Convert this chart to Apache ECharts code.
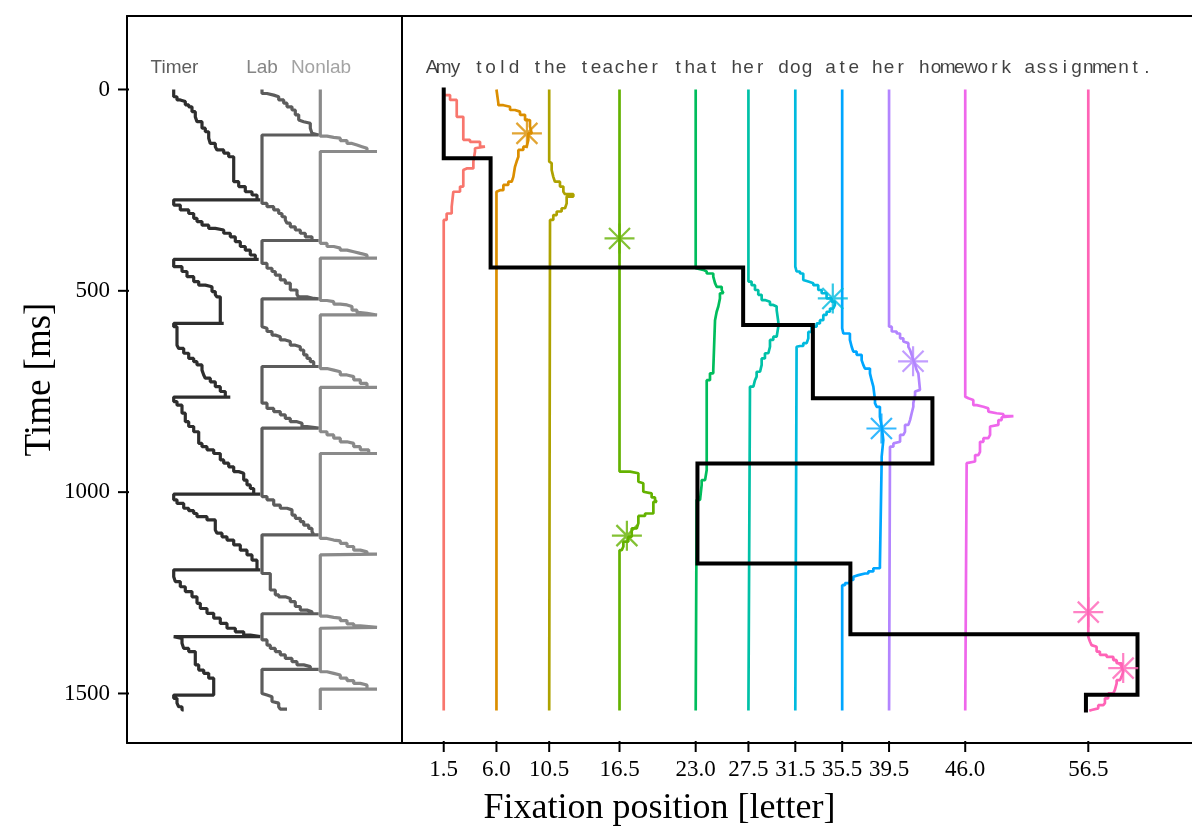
<!DOCTYPE html>
<html><head><meta charset="utf-8">
<script src="https://cdn.jsdelivr.net/npm/echarts@6/dist/echarts.min.js"></script>
<style>html,body{margin:0;padding:0;background:#fff}#c{width:1192px;height:834px}</style>
</head><body><div id="c"></div>
<script>
// ---------- data ----------
const sentence = 'Amy told the teacher that her dog ate her homework assignment.';
const words = ['Amy','told','the','teacher','that','her','dog','ate','her','homework','assignment.'];
const wordPos = [1.5, 6.0, 10.5, 16.5, 23.0, 27.5, 31.5, 35.5, 39.5, 46.0, 56.5];
const yTicks = [0, 500, 1000, 1500];
const trialEnd = 1542;

// activation traces per word: [letter position, time ms]
const traceAmy = [[1.5,0],[1.5,5],[2.04,14],[2.61,26],[2.61,68],[3.17,68],[3.17,117],[3.74,125],[4.6,130],[5.02,142],[4.17,146],[4.03,154],[4.03,179],[3.46,196],[3.17,200],[3.17,225],[2.89,241],[2.32,254],[2.18,258],[2.18,291],[1.75,308],[1.5,324],[1.5,1542]];
const traceTold = [[6,0],[6.16,2],[6.16,34],[6.59,39],[7.16,43],[7.58,51],[8.01,55],[8.44,63],[8.86,76],[9.01,92],[8.72,109],[8.58,125],[8.29,142],[7.87,150],[7.72,167],[7.58,179],[7.44,192],[7.3,217],[7.01,229],[6.59,237],[6.3,250],[6.0,254],[6.0,1542]];
const traceThe = [[10.5,0],[10.5,179],[10.71,183],[10.85,200],[10.99,217],[11.42,229],[11.71,241],[11.85,254],[12.56,260],[11.99,266],[11.85,283],[11.56,295],[11.14,303],[10.85,312],[10.57,324],[10.5,328],[10.5,1542]];
const traceTeacher = [[16.5,0],[16.5,937],[17.4,949],[18.11,953],[18.25,974],[18.53,978],[18.68,999],[19.24,1003],[19.53,1013],[19.67,1019],[19.39,1024],[19.39,1048],[18.68,1053],[18.11,1059],[17.97,1077],[17.54,1090],[17.25,1111],[16.83,1123],[16.69,1135],[16.5,1144],[16.5,1542]];
const traceThat = [[23,0],[23,444],[23.65,448],[23.94,452],[24.5,457],[24.65,465],[24.79,481],[25.22,490],[25.36,498],[25.07,506],[24.93,519],[24.79,539],[24.65,552],[24.5,573],[24.5,697],[24.22,705],[23.94,722],[23.94,937],[23.8,945],[23.51,970],[23.37,982],[23.08,1019],[23,1024],[23,1542]];
const traceHer1 = [[27.5,0],[27.5,469],[27.77,477],[28.06,486],[28.34,498],[28.63,510],[28.91,523],[29.34,527],[29.62,535],[29.91,539],[30.05,548],[30.05,577],[29.91,589],[29.62,614],[29.34,622],[29.2,639],[28.91,655],[28.63,668],[28.49,684],[28.2,701],[28.06,713],[27.92,722],[27.63,738],[27.5,755],[27.5,1542]];
const traceDog = [[31.5,0],[31.5,440],[31.61,444],[31.9,452],[32.18,457],[32.33,473],[32.61,477],[33.04,481],[33.46,486],[33.75,498],[34.17,506],[34.6,519],[34.88,527],[34.74,535],[34.46,544],[34.17,552],[33.89,560],[33.6,573],[33.32,581],[32.89,589],[32.61,602],[32.47,618],[32.18,630],[31.9,637],[31.61,639],[31.5,643],[31.5,1542]];
const traceAte = [[35.5,0],[35.5,593],[35.6,597],[36.16,606],[36.31,622],[36.45,639],[36.73,651],[37.16,659],[37.3,672],[37.44,684],[37.87,693],[38.01,705],[38.16,722],[38.3,738],[38.3,771],[38.44,779],[38.72,788],[38.87,813],[39.01,837],[38.87,871],[38.87,912],[38.72,920],[38.72,1181],[38.16,1189],[37.73,1197],[37.45,1202],[36.88,1206],[36.45,1210],[36.17,1218],[35.74,1226],[35.5,1231],[35.5,1542]];
const traceHer2 = [[39.5,0],[39.5,581],[39.73,589],[40.15,601],[40.44,606],[40.72,618],[40.86,626],[41.15,630],[41.29,639],[41.43,647],[41.57,659],[41.72,672],[41.86,684],[42.0,697],[42.14,705],[42.14,746],[41.72,750],[41.57,759],[41.57,779],[41.43,788],[41.29,804],[41.15,821],[40.86,833],[40.72,850],[40.44,858],[40.29,875],[39.87,879],[39.58,887],[39.5,891],[39.5,1542]];
const traceHomework = [[46,0],[46,763],[46.27,767],[46.69,771],[46.98,784],[47.55,788],[47.97,792],[48.12,800],[48.68,804],[49.25,806],[50.11,811],[49.11,814],[48.83,821],[48.83,833],[48.12,837],[47.97,858],[47.55,866],[47.26,875],[47.12,900],[46.84,908],[46.69,924],[46.12,928],[46,933],[46,1542]];
const traceAssignment = [[56.5,0],[56.5,1359],[56.64,1363],[56.78,1371],[56.93,1380],[57.21,1384],[57.49,1396],[58.06,1404],[58.63,1409],[58.92,1417],[59.34,1425],[59.48,1433],[59.34,1446],[59.2,1458],[58.92,1467],[58.77,1475],[58.63,1491],[58.2,1500],[57.92,1512],[57.78,1524],[57.35,1529],[57.21,1537],[56.78,1541],[56.58,1543]];
const wordTraces = [traceAmy, traceTold, traceThe, traceTeacher, traceThat, traceHer1, traceDog, traceAte, traceHer2, traceHomework, traceAssignment];

// fixations
const fixPos = [1.5, 5.5, 27.05, 33.0, 43.2, 23.15, 36.2, 60.7, 56.3];
const fixOnset = [0, 171, 442, 585, 767, 929, 1177, 1353, 1503];

// stars
const starWord = [1, 3, 6, 8, 7, 3, 10, 10];
const starPos = [8.6, 16.5, 34.7, 41.55, 38.85, 17.13, 56.5, 59.48];
const starTime = [109, 370, 519, 675, 842, 1108, 1298, 1437];

// left panel traces: [state, time ms]
const panelLabels = ['Timer', 'Lab', 'Nonlab'];
const panelLabelPos = [47.5, 135, 194];
const timerTrace = [[46.7,0],[50,18],[53.3,26],[58.3,30],[61.7,38],[65,43],[68.3,55],[70,68],[75,80],[78.3,96],[81.7,105],[83.3,121],[88.3,134],[90,142],[96.7,150],[101.7,158],[106.7,167],[106.7,217],[111.7,229],[118.3,241],[125,254],[130,262],[133.3,274],[46.7,274],
[53.3,287],[61.7,299],[66.7,308],[70,320],[75,328],[81.7,337],[88.3,345],[96.7,349],[103.3,357],[108.3,366],[113.3,378],[118.3,390],[123.3,399],[128.3,411],[131.7,422],[46.7,422],
[55,440],[60,452],[66.7,465],[71.7,477],[78.3,486],[85,490],[88.3,502],[90,510],[93.3,515],[93.3,572],[96.7,581],[46.7,581],
[50,589],[50,622],[51.7,635],[56.7,643],[61.7,655],[66.7,668],[70,676],[75,684],[76.7,697],[78.3,709],[83.3,717],[88.3,726],[93.3,738],[98.3,750],[103.3,764],[46.7,764],
[50,775],[55,784],[58.3,804],[61.7,825],[66.7,837],[71.7,850],[75,879],[80,887],[86.7,895],[93.3,904],[96.7,920],[101.7,928],[106.7,937],[111.7,949],[116.7,953],[120,970],[123.3,982],[126.7,991],[133.3,1005],[46.7,1005],
[50,1019],[56.7,1028],[61.7,1040],[66.7,1046],[70,1053],[80,1061],[88.3,1069],[90,1094],[95,1102],[100,1111],[106.7,1119],[113.3,1131],[120,1144],[125,1156],[130,1169],[133.3,1193],[46.7,1193],
[48.3,1210],[53.3,1222],[58.3,1235],[65,1247],[70,1260],[73.3,1276],[80,1289],[86.7,1301],[93.3,1313],[100,1326],[108.3,1338],[116.7,1347],[123.3,1355],[133.3,1359],[46.7,1359],
[55,1363],[56.7,1375],[61.7,1388],[68.3,1396],[71.7,1429],[76.7,1442],[81.7,1450],[86.7,1462],[86.7,1504],[46.7,1504],
[50,1512],[51.7,1524],[55,1533],[56.7,1541]];
const labTrace = [[135,0],[140,10],[146.7,14],[151.7,18],[156.7,26],[160,34],[165,43],[168.3,51],[171.7,63],[173.3,76],[176.7,80],[183.3,84],[185,96],[186.7,109],[191.7,113],[135,113],[135,274],
[140,283],[146.7,291],[151.7,299],[155,308],[158.3,316],[160,324],[163.3,332],[168.3,341],[173.3,349],[178.3,357],[185,366],[191.7,375],[135,375],[135,422],
[140,432],[145,444],[148.3,452],[153.3,461],[158.3,473],[163.3,481],[170,498],[171.7,510],[180,515],[186.7,519],[191.7,520],[135,520],[135,589],
[140,593],[145,601],[148.3,610],[153.3,614],[158.3,622],[163.3,626],[168.3,635],[173.3,639],[176.7,647],[180,659],[183.3,668],[186.7,676],[191.7,688],[135,688],[135,771],
[140,779],[146.7,792],[153.3,800],[158.3,808],[163.3,817],[170,825],[175,829],[180,837],[191.7,841],[135,841],[135,1003],
[140,1011],[146.7,1019],[153.3,1032],[160,1040],[165,1044],[168.3,1057],[173.3,1065],[176.7,1073],[181.7,1082],[185,1090],[186.7,1098],[191.7,1106],[135,1106],[135,1197],
[143.3,1202],[143.3,1226],[148.3,1243],[151.7,1255],[158.3,1260],[163.3,1264],[168.3,1272],[173.3,1284],[180,1293],[185,1297],[191.7,1302],[135,1302],[135,1359],
[140,1367],[143.3,1380],[148.3,1388],[153.3,1396],[158.3,1404],[165,1413],[170,1421],[176.7,1429],[183.3,1433],[191.7,1440],[135,1440],[135,1500],
[140,1504],[145,1508],[146.7,1520],[151.7,1524],[153.3,1533],[160,1539]];
const nonlabTrace = [[193.3,0],[193.3,109],[200,116],[206.7,119],[213.3,121],[220,127],[225,134],[230,138],[235,142],[240,146],[250,154],[193.3,154],[193.3,375],
[200,382],[206.7,390],[213.3,394],[220,399],[226.7,403],[233.3,407],[240,411],[250,419],[193.3,419],[193.3,519],
[200,524],[206.7,527],[213.3,533],[220,535],[225,539],[230,548],[233.3,554],[240,556],[250,560],[193.3,560],[193.3,684],
[200,693],[206.7,697],[213.3,701],[220,709],[226.7,713],[233.3,721],[240,730],[250,740],[193.3,740],[193.3,841],
[200,850],[206.7,858],[213.3,866],[220,875],[226.7,879],[233.3,887],[241.7,895],[250,904],[193.3,904],[193.3,1106],
[200,1115],[206.7,1119],[213.3,1121],[220,1127],[226.7,1135],[233.3,1144],[240,1148],[250,1154],[193.3,1156],[193.3,1301],
[200,1308],[206.7,1311],[213.3,1313],[220,1319],[226.7,1327],[233.3,1332],[250,1336],[193.3,1338],[193.3,1440],
[200,1446],[206.7,1450],[213.3,1454],[220,1462],[226.7,1468],[233.3,1475],[240,1479],[250,1489],[193.3,1489],[193.3,1541]];

// ---------- styles ----------
const wordColors = ['#F8766D','#DB8E00','#AEA200','#64B200','#00BD5C','#00C1A7','#00BADE','#00A6FF','#B385FF','#EF67EB','#FF63B6'];
const panelLineColors = ['#2e2e2e','#5c5c5c','#8a8a8a'];
const panelTextColors = ['#333333','#666666','#8c8c8c'];
const SERIF = 'Liberation Serif';
const SANS = 'Liberation Sans';
const T_MIN = -182.5, T_MAX = 1623;
const LEFT_MIN = 0, LEFT_MAX = 275;
const TEXT_T = -53;
const TICK_LEN = 9, TICK_W = 2, TICK_OVERLAP = 2;
const STAR = 'path://M10 0L10 20M0 10L20 10M3 3L17 17M3 17L17 3';

// ---------- build ----------
const fixPath = [];
fixPos.forEach((p, i) => {
  const end = i + 1 < fixOnset.length ? fixOnset[i + 1] : trialEnd;
  fixPath.push([p, fixOnset[i]], [p, end]);
});
const sentenceData = [];
for (let i = 0; i < sentence.length; i++) {
  const ch = sentence[i];
  if (ch !== ' ') sentenceData.push({ name: ch, value: [i + 0.5, TEXT_T] });
}
const series = [];
// x-axis tick marks at the word centres (placed through the axis scale)
series.push({ type: 'custom', xAxisIndex: 3, yAxisIndex: 2, clip: false,
  data: wordPos.map(p => [p, T_MAX]),
  renderItem: (params, api) => {
    const pt = api.coord([api.value(0), api.value(1)]);
    return { type: 'rect',
      shape: { x: pt[0] - TICK_W / 2, y: pt[1] - TICK_OVERLAP, width: TICK_W, height: TICK_LEN + TICK_OVERLAP },
      style: { fill: '#000' } };
  } });
// y-axis tick marks (placed through the axis scale)
series.push({ type: 'custom', xAxisIndex: 2, yAxisIndex: 1, clip: false,
  data: yTicks.map(t => [LEFT_MIN, t]),
  renderItem: (params, api) => {
    const pt = api.coord([api.value(0), api.value(1)]);
    return { type: 'rect',
      shape: { x: pt[0] - TICK_LEN, y: pt[1] - TICK_W / 2, width: TICK_LEN + TICK_OVERLAP, height: TICK_W },
      style: { fill: '#000' } };
  } });
[timerTrace, labTrace, nonlabTrace].forEach((tr, k) => {
  series.push({ type: 'line', xAxisIndex: 2, yAxisIndex: 1, data: tr, step: 'start',
    showSymbol: false, silent: true, z: 2,
    lineStyle: { color: panelLineColors[k], width: 3.2 } });
});
series.push({ type: 'scatter', xAxisIndex: 2, yAxisIndex: 1, symbolSize: 0, silent: true,
  data: panelLabels.map((n, k) => ({ name: n, value: [panelLabelPos[k], TEXT_T],
    label: { color: panelTextColors[k] } })),
  label: { show: true, position: 'inside', formatter: p => p.name, fontFamily: SANS, fontSize: 19 } });
series.push({ type: 'scatter', xAxisIndex: 3, yAxisIndex: 2, symbolSize: 0, silent: true,
  data: sentenceData,
  label: { show: true, position: 'inside', formatter: p => p.name, fontFamily: SANS, fontSize: 19, color: '#111' } });
wordTraces.forEach((tr, k) => {
  series.push({ type: 'line', name: words[k], xAxisIndex: 3, yAxisIndex: 2, data: tr, step: 'start',
    showSymbol: false, silent: true, z: 3,
    lineStyle: { color: wordColors[k], width: 2.7 } });
});
series.push({ type: 'line', xAxisIndex: 3, yAxisIndex: 2, data: fixPath, showSymbol: false, silent: true, z: 4,
  lineStyle: { color: '#000', width: 4, join: 'miter', cap: 'square' } });
series.push({ type: 'scatter', xAxisIndex: 3, yAxisIndex: 2, symbol: STAR, symbolSize: 30, silent: true, z: 5,
  data: starPos.map((p, i) => ({ value: [p, starTime[i]],
    itemStyle: { color: wordColors[starWord[i]], borderColor: wordColors[starWord[i]], borderWidth: 2.2 } })) });

const hiddenY = (gi) => ({ type: 'value', gridIndex: gi, inverse: true, min: T_MIN, max: T_MAX,
  axisLine: { show: false }, axisTick: { show: false }, axisLabel: { show: false }, splitLine: { show: false } });

const option = {
  animation: false,
  backgroundColor: '#fff',
  grid: [
    { left: 127, top: 16, right: 0, bottom: 91 },
    { left: 127, top: 16, width: 275, bottom: 91 },
    { left: 402, top: 16, right: 0, bottom: 91 }
  ],
  xAxis: [
    { type: 'value', gridIndex: 0, min: 0, max: 1, position: 'bottom',
      axisLine: { show: true, onZero: false, lineStyle: { color: '#000', width: 2 } },
      axisTick: { show: false }, axisLabel: { show: false }, splitLine: { show: false },
      name: 'Fixation position [letter]', nameLocation: 'middle', nameGap: 48, nameMoveOverlap: false,
      nameTextStyle: { fontFamily: SERIF, fontSize: 36, color: '#000' } },
    { type: 'value', gridIndex: 0, min: 0, max: 1, position: 'top',
      axisLine: { show: true, onZero: false, lineStyle: { color: '#000', width: 2 } },
      axisTick: { show: false }, axisLabel: { show: false }, splitLine: { show: false } },
    { type: 'value', gridIndex: 1, min: LEFT_MIN, max: LEFT_MAX,
      axisLine: { show: false }, axisTick: { show: false }, axisLabel: { show: false }, splitLine: { show: false } },
    { type: 'value', gridIndex: 2, min: -2.06, max: 65.35, position: 'bottom',
      axisLine: { show: true, onZero: false, lineStyle: { color: '#000', width: 2 } },
      axisTick: { show: false },
      axisLabel: { show: true, customValues: wordPos, formatter: v => Number(v).toFixed(1),
        fontFamily: SERIF, fontSize: 23, color: '#000', margin: 15 },
      splitLine: { show: false } }
  ],
  yAxis: [
    { type: 'value', gridIndex: 0, inverse: true, min: T_MIN, max: T_MAX,
      axisLine: { show: true, onZero: false, lineStyle: { color: '#000', width: 2 } },
      axisTick: { show: false },
      axisLabel: { show: true, customValues: yTicks, formatter: v => String(Math.round(v)),
        fontFamily: SERIF, fontSize: 23, color: '#000', margin: 17 },
      splitLine: { show: false },
      name: 'Time [ms]', nameLocation: 'middle', nameGap: 68, nameMoveOverlap: false,
      nameTextStyle: { fontFamily: SERIF, fontSize: 37, color: '#000' } },
    hiddenY(1),
    { type: 'value', gridIndex: 2, inverse: true, min: T_MIN, max: T_MAX,
      axisLine: { show: true, onZero: false, lineStyle: { color: '#000', width: 2 } },
      axisTick: { show: false }, axisLabel: { show: false }, splitLine: { show: false } }
  ],
  series
};
const chart = echarts.init(document.getElementById('c'), null, { renderer: 'canvas' });
chart.setOption(option);
</script>
</body></html>
